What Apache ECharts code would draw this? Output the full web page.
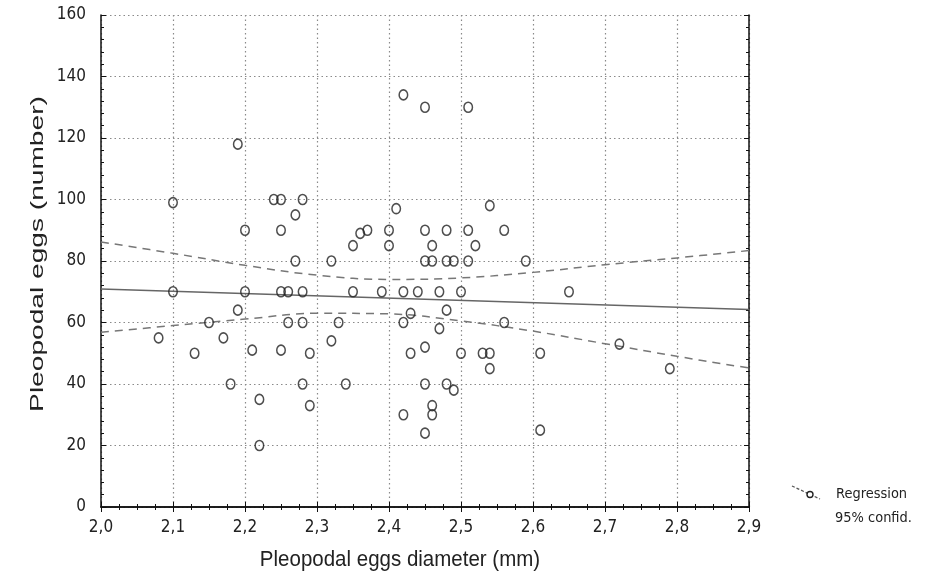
<!DOCTYPE html>
<html>
<head>
<meta charset="utf-8">
<script src="https://cdn.jsdelivr.net/npm/echarts@6/dist/echarts.min.js"></script>
<style>
  html, body { margin: 0; padding: 0; background: #fff; }
  #chart { width: 941px; height: 583px; }
</style>
</head>
<body>
<div id="chart"></div>
<script>
// Egg diameter (mm) and egg count per female
const eggDiameter = [
  2.19, 2.10, 2.24, 2.25, 2.28, 2.27, 2.20, 2.25, 2.27, 2.32,
  2.42, 2.45, 2.51, 2.41, 2.54, 2.36, 2.37, 2.40, 2.45, 2.48, 2.51, 2.56,
  2.35, 2.40, 2.46, 2.52, 2.45, 2.46, 2.48, 2.49, 2.51, 2.59,
  2.10, 2.20, 2.25, 2.26, 2.28, 2.19, 2.15, 2.26, 2.28, 2.08, 2.17,
  2.13, 2.21, 2.25, 2.29, 2.32, 2.18, 2.28, 2.22, 2.29, 2.22,
  2.35, 2.39, 2.42, 2.44, 2.47, 2.50, 2.65, 2.43, 2.48, 2.33, 2.42,
  2.47, 2.56, 2.45, 2.43, 2.50, 2.53, 2.54, 2.54, 2.61, 2.34, 2.45,
  2.48, 2.49, 2.46, 2.46, 2.42, 2.45, 2.61,
  2.72, 2.79
];
const eggCount = [
  118, 99, 100, 100, 100, 95, 90, 90, 80, 80,
  134, 130, 130, 97, 98, 89, 90, 90, 90, 90, 90, 90,
  85, 85, 85, 85, 80, 80, 80, 80, 80, 80,
  70, 70, 70, 70, 70, 64, 60, 60, 60, 55, 55,
  50, 51, 51, 50, 54, 40, 40, 35, 33, 20,
  70, 70, 70, 70, 70, 70, 70, 63, 64, 60, 60,
  58, 60, 52, 50, 50, 50, 50, 45, 50, 40, 40,
  40, 38, 33, 30, 30, 24, 25,
  53, 45
];

// Fitted regression line (end points)
const fitX = [2.0, 2.9];
const fitY = [70.9, 64.2];

// 95% confidence limits
const bandX = [2.0, 2.1, 2.2, 2.3, 2.4, 2.5, 2.6, 2.7, 2.8, 2.9];
const bandUpper = [86.2, 82.5, 78.6, 75.4, 74.0, 74.5, 76.3, 78.8, 81.0, 83.4];
const bandLower = [56.8, 59.0, 61.1, 63.0, 62.8, 60.5, 57.2, 53.1, 49.0, 45.2];

// Axis tick labels
const xTickLabels = ['2,0', '2,1', '2,2', '2,3', '2,4', '2,5', '2,6', '2,7', '2,8', '2,9'];
const yTickLabels = ['0', '20', '40', '60', '80', '100', '120', '140', '160'];

const pairs = (xs, ys) => xs.map((x, i) => [x, ys[i]]);

const tickFont = '"Liberation Sans Narrow", "DejaVu Sans Condensed", "Liberation Sans", Arial, sans-serif';
const legendFont = '13px "DejaVu Sans", sans-serif';
const gridDots = { color: '#8a8a8a', width: 1.2, type: [1.5, 3] };
const frameLine = { show: true, lineStyle: { color: '#111', width: 1.5 } };
const innerTick = { inside: true, length: 5, lineStyle: { color: '#111' } };

const chart = echarts.init(document.getElementById('chart'));

chart.setOption({
  animation: false,
  backgroundColor: '#fff',
  grid: { left: 101, top: 15, width: 648, height: 492 },
  xAxis: [
    {
      type: 'value', min: 2.0, max: 2.9, interval: 0.1,
      position: 'bottom',
      axisLine: frameLine,
      axisTick: innerTick,
      minorTick: { show: true, splitNumber: 4, length: 3, lineStyle: { color: '#111' } },
      splitLine: { show: true, lineStyle: gridDots },
      axisLabel: {
        color: '#222', fontFamily: tickFont, fontSize: 17, margin: 12,
        formatter: v => xTickLabels[Math.round((v - 2.0) * 10)]
      }
    },
    {
      type: 'value', min: 2.0, max: 2.9, interval: 0.1,
      position: 'top',
      axisLine: frameLine,
      axisTick: innerTick,
      minorTick: { show: true, splitNumber: 4, length: 3, lineStyle: { color: '#111' } },
      splitLine: { show: false },
      axisLabel: { show: false }
    }
  ],
  yAxis: [
    {
      type: 'value', min: 0, max: 160, interval: 20,
      position: 'left',
      axisLine: frameLine,
      axisTick: innerTick,
      minorTick: { show: true, splitNumber: 5, length: 3, lineStyle: { color: '#111' } },
      splitLine: { show: true, lineStyle: gridDots },
      axisLabel: {
        color: '#222', fontFamily: tickFont, fontSize: 17, margin: 15,
        formatter: v => yTickLabels[Math.round(v / 20)]
      }
    },
    {
      type: 'value', min: 0, max: 160, interval: 20,
      position: 'right',
      axisLine: frameLine,
      axisTick: innerTick,
      minorTick: { show: true, splitNumber: 5, length: 3, lineStyle: { color: '#111' } },
      splitLine: { show: false },
      axisLabel: { show: false }
    }
  ],
  series: [
    {
      name: '95% confid. upper', type: 'line', smooth: 0.4,
      data: pairs(bandX, bandUpper), symbol: 'none', z: 2,
      lineStyle: { color: '#777', width: 1.5, type: [8, 6] }
    },
    {
      name: '95% confid. lower', type: 'line', smooth: 0.4,
      data: pairs(bandX, bandLower), symbol: 'none', z: 2,
      lineStyle: { color: '#777', width: 1.5, type: [8, 6] }
    },
    {
      name: 'Regression', type: 'line',
      data: pairs(fitX, fitY), symbol: 'none', z: 3,
      lineStyle: { color: '#666', width: 1.5 }
    },
    {
      name: 'Eggs', type: 'scatter', z: 4,
      data: pairs(eggDiameter, eggCount),
      symbol: 'circle', symbolSize: [8.5, 10],
      itemStyle: { color: 'rgba(255,255,255,0)', borderColor: '#222', borderWidth: 1.6 }
    }
  ],
  graphic: [
    // axis titles
    {
      type: 'text', x: 400, y: 560, scaleY: 1.1,
      style: { text: 'Pleopodal eggs diameter (mm)', font: '20.5px "Liberation Sans", Arial, sans-serif',
               fill: '#222', textAlign: 'center', textVerticalAlign: 'middle' }
    },
    {
      type: 'text', x: 38, y: 254, rotation: Math.PI / 2, scaleX: 1.48,
      style: { text: 'Pleopodal eggs (number)', font: '19px "Liberation Sans", Arial, sans-serif',
               fill: '#222', textAlign: 'center', textVerticalAlign: 'middle' }
    },
    // legend
    {
      type: 'group', x: 792, y: 486,
      children: [
        { type: 'line', shape: { x1: 0, y1: 0, x2: 28, y2: 13 },
          style: { stroke: '#555', lineWidth: 1.3, lineDash: [3, 2] } },
        { type: 'circle', shape: { cx: 18, cy: 8.5, r: 3 },
          style: { fill: '#fff', stroke: '#222', lineWidth: 1.4 } },
        { type: 'text', x: 44, y: 8, scaleY: 1.1,
          style: { text: 'Regression', fill: '#222', font: legendFont, textVerticalAlign: 'middle' } },
        { type: 'text', x: 43, y: 32, scaleY: 1.1,
          style: { text: '95% confid.', fill: '#222', font: legendFont, textVerticalAlign: 'middle' } }
      ]
    }
  ]
});
</script>
</body>
</html>
